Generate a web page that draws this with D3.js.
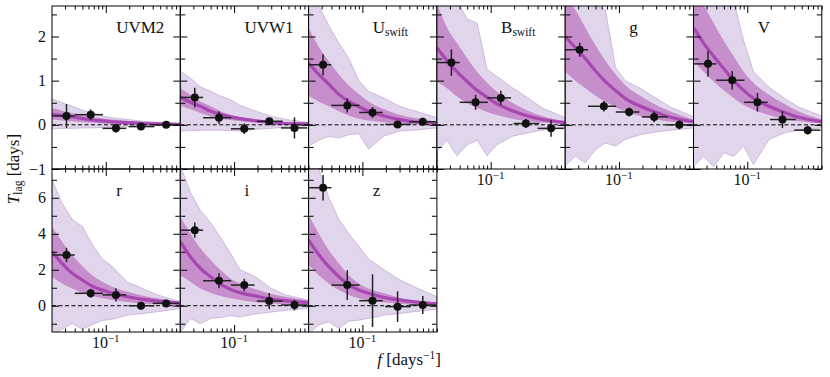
<!DOCTYPE html>
<html>
<head>
<meta charset="utf-8">
<script src="https://cdn.jsdelivr.net/npm/d3@7"></script>
<style>
  body { margin: 0; background: #fff; }
  svg { display: block; }
</style>
</head>
<body>
<div id="chart"></div>
<script>
/* panel names, in drawing order: top row of six, then bottom row of three */
const bands = ["UVM2", "UVW1", "U", "B", "g", "V", "r", "i", "z"];
const bandSub = ["", "", "swift", "swift", "", "", "", "", ""];

/* binned lag measurements: frequency bins and lag (days) with 1-sigma errors */
const fMid = [0.0313, 0.064, 0.135, 0.283, 0.596];
const fLo = [0.0204, 0.04, 0.091, 0.196, 0.40];
const fHi = [0.04, 0.092, 0.183, 0.42, 0.87];

const lagVals = [
  [0.2, 0.23, -0.08, -0.04, 0.0],
  [0.62, 0.16, -0.09, 0.08, -0.07],
  [1.36, 0.44, 0.28, 0.01, 0.07],
  [1.41, 0.51, 0.61, 0.03, -0.08],
  [1.7, 0.42, 0.29, 0.18, 0.0],
  [1.38, 1.01, 0.51, 0.12, -0.12],
  [2.82, 0.69, 0.6, 0.0, 0.13],
  [4.2, 1.39, 1.15, 0.26, 0.04],
  [6.56, 1.15, 0.28, -0.05, 0.04]
];
const lagErrs = [
  [0.27, 0.12, 0.1, 0.05, 0.05],
  [0.22, 0.14, 0.12, 0.05, 0.24],
  [0.24, 0.16, 0.12, 0.06, 0.09],
  [0.3, 0.17, 0.16, 0.1, 0.19],
  [0.16, 0.12, 0.1, 0.12, 0.1],
  [0.29, 0.21, 0.21, 0.19, 0.1],
  [0.4, 0.25, 0.37, 0.2, 0.2],
  [0.42, 0.42, 0.35, 0.45, 0.3],
  [0.71, 0.83, 1.46, 0.85, 0.5]
];

/* model lag spectra read at these frequencies */
const fGrid = [0.0204, 0.0275, 0.037, 0.05, 0.067, 0.09, 0.12, 0.19, 0.3, 0.46, 0.905];

const medLine = [
  [0.24, 0.21, 0.18, 0.14, 0.11, 0.09, 0.07, 0.05, 0.03, 0.02, 0.01],
  [0.63, 0.51, 0.42, 0.31, 0.24, 0.18, 0.14, 0.09, 0.05, 0.03, 0.02],
  [1.4, 1.14, 0.92, 0.69, 0.53, 0.41, 0.31, 0.2, 0.12, 0.07, 0.04],
  [1.75, 1.45, 1.2, 0.98, 0.78, 0.62, 0.48, 0.32, 0.2, 0.12, 0.05],
  [2.0, 1.75, 1.5, 1.22, 0.98, 0.78, 0.6, 0.42, 0.28, 0.17, 0.07],
  [2.2, 1.85, 1.55, 1.27, 1.0, 0.78, 0.6, 0.42, 0.28, 0.17, 0.07],
  [3.0, 2.35, 1.8, 1.43, 1.09, 0.87, 0.69, 0.5, 0.35, 0.26, 0.15],
  [3.56, 2.72, 2.07, 1.61, 1.2, 0.91, 0.72, 0.54, 0.37, 0.28, 0.17],
  [3.65, 2.85, 2.17, 1.61, 1.15, 0.87, 0.69, 0.46, 0.32, 0.22, 0.11]
];
const sig1Hi = [
  [0.38, 0.32, 0.27, 0.23, 0.18, 0.15, 0.12, 0.09, 0.06, 0.04, 0.02],
  [0.83, 0.68, 0.53, 0.42, 0.31, 0.23, 0.18, 0.12, 0.08, 0.05, 0.02],
  [2.19, 1.77, 1.44, 1.14, 0.89, 0.7, 0.53, 0.35, 0.23, 0.16, 0.07],
  [2.75, 2.2, 1.85, 1.5, 1.2, 0.95, 0.75, 0.5, 0.32, 0.2, 0.08],
  [2.9, 2.6, 2.2, 1.8, 1.45, 1.15, 0.9, 0.65, 0.45, 0.3, 0.12],
  [3.0, 2.7, 2.3, 1.9, 1.55, 1.2, 0.95, 0.68, 0.47, 0.3, 0.12],
  [4.39, 3.56, 2.82, 2.2, 1.7, 1.33, 1.06, 0.78, 0.56, 0.41, 0.22],
  [4.95, 4.02, 3.19, 2.54, 1.98, 1.52, 1.24, 0.91, 0.65, 0.5, 0.28],
  [5.04, 4.02, 3.09, 2.35, 1.7, 1.24, 0.96, 0.69, 0.45, 0.32, 0.17]
];
const sig1Lo = [
  [0.12, 0.1, 0.08, 0.06, 0.05, 0.03, 0.02, 0.015, 0.01, 0.005, 0.0],
  [0.44, 0.35, 0.27, 0.19, 0.14, 0.11, 0.08, 0.05, 0.03, 0.02, 0.01],
  [0.65, 0.53, 0.42, 0.31, 0.21, 0.14, 0.1, 0.06, 0.03, 0.02, 0.01],
  [0.98, 0.83, 0.64, 0.49, 0.38, 0.29, 0.22, 0.14, 0.08, 0.05, 0.02],
  [1.2, 1.0, 0.83, 0.66, 0.52, 0.4, 0.3, 0.2, 0.12, 0.07, 0.03],
  [1.45, 1.2, 0.98, 0.78, 0.6, 0.45, 0.34, 0.22, 0.13, 0.08, 0.03],
  [1.61, 1.24, 0.96, 0.72, 0.54, 0.41, 0.32, 0.21, 0.13, 0.09, 0.06],
  [1.7, 1.33, 0.96, 0.72, 0.54, 0.41, 0.32, 0.2, 0.13, 0.09, 0.06],
  [2.26, 1.7, 1.24, 0.87, 0.6, 0.41, 0.28, 0.19, 0.11, 0.07, 0.04]
];
const sig2Hi = [
  [0.59, 0.5, 0.42, 0.33, 0.27, 0.2, 0.16, 0.12, 0.08, 0.06, 0.03],
  [1.21, 1.06, 0.86, 0.76, 0.65, 0.57, 0.44, 0.31, 0.19, 0.12, 0.05],
  [3.0, 2.7, 2.25, 1.85, 1.5, 1.0, 0.76, 0.6, 0.42, 0.32, 0.16],
  [3.0, 3.0, 2.8, 2.4, 2.3, 1.25, 1.1, 0.84, 0.61, 0.38, 0.16],
  [3.0, 3.0, 3.0, 2.7, 2.6, 1.3, 1.0, 0.82, 0.6, 0.4, 0.18],
  [3.0, 3.0, 3.0, 3.0, 2.8, 1.9, 1.2, 0.85, 0.6, 0.4, 0.2],
  [7.0, 5.7, 4.8, 4.4, 3.4, 2.6, 2.2, 1.3, 0.95, 0.6, 0.22],
  [7.8, 6.3, 5.3, 4.6, 3.8, 2.9, 2.0, 1.6, 0.96, 0.6, 0.3],
  [8.0, 7.6, 6.0, 4.8, 4.0, 3.3, 2.6, 2.0, 1.45, 1.05, 0.5]
];
const sig2Lo = [
  [-0.09, -0.08, -0.08, -0.07, -0.07, -0.06, -0.05, -0.04, -0.03, -0.02, -0.01],
  [-0.14, -0.13, -0.12, -0.12, -0.12, -0.13, -0.14, -0.1, -0.08, -0.05, -0.02],
  [-0.48, -0.35, -0.26, -0.3, -0.22, -0.2, -0.55, -0.25, -0.14, -0.12, -0.07],
  [-0.6, -0.35, -0.7, -0.45, -0.35, -0.7, -0.45, -0.26, -0.18, -0.12, -0.07],
  [-0.93, -0.71, -0.86, -0.56, -0.41, -0.48, -0.33, -0.22, -0.16, -0.12, -0.07],
  [-0.95, -0.71, -0.95, -0.63, -0.71, -0.48, -0.9, -0.33, -0.18, -0.12, -0.07],
  [-1.6, -1.3, -0.98, -1.3, -1.05, -0.82, -0.75, -0.52, -0.43, -0.33, -0.15],
  [-1.5, -0.7, -1.0, -0.7, -0.65, -0.55, -0.62, -0.45, -0.35, -0.25, -0.15],
  [-1.6, -1.07, -0.89, -1.26, -0.85, -0.8, -0.7, -0.52, -0.43, -0.33, -0.19]
];

/* axis ticks */
const xMajor = [0.1];
const xMinor = [0.03, 0.04, 0.05, 0.06, 0.07, 0.08, 0.09, 0.2, 0.3, 0.4, 0.5, 0.6, 0.7, 0.8, 0.9];
const yMajorTop = [-1, 0, 1, 2];
const yMinorTop = [-0.5, 0.5, 1.5, 2.5];
const yMajorBot = [0, 2, 4, 6];
const yMinorBot = [-1, 1, 3, 5, 7];

const width = 830, height = 377;
const left0 = 52, panelW = 128.3, panelH = 163;
const rowTop = [6, 169];
const serif = "'Liberation Serif', 'DejaVu Serif', serif";

const colLight = "#e1d5eb", colLightEdge = "#c4acd6";
const colMid = "#c68ecb", colMed = "#a847b2";

const x = d3.scaleLog().domain([0.0204, 0.905]).range([0, panelW]);
const yTop = d3.scaleLinear().domain([-1, 2.69]).range([panelH, 0]);
const yBot = d3.scaleLinear().domain([-1.46, 7.6]).range([panelH, 0]);

const svg = d3.select("#chart").append("svg")
  .attr("width", width)
  .attr("height", height)
  .attr("font-family", serif)
  .style("font-family", serif);

bands.forEach((name, i) => {
  const row = i < 6 ? 0 : 1;
  const col = i < 6 ? i : i - 6;
  const y = row === 0 ? yTop : yBot;
  const g = svg.append("g")
    .attr("transform", `translate(${left0 + col * panelW},${rowTop[row]})`);

  const clipId = "clip" + i;
  g.append("clipPath").attr("id", clipId)
    .append("rect").attr("width", panelW).attr("height", panelH);

  const plot = g.append("g").attr("clip-path", `url(#${clipId})`);

  const area2 = d3.area()
    .x((d, j) => x(fGrid[j]))
    .y0((d, j) => y(sig2Lo[i][j]))
    .y1(d => y(d));
  plot.append("path")
    .attr("d", area2(sig2Hi[i]))
    .attr("fill", colLight)
    .attr("stroke", colLightEdge)
    .attr("stroke-width", 0.8);

  const area1 = d3.area()
    .curve(d3.curveMonotoneX)
    .x((d, j) => x(fGrid[j]))
    .y0((d, j) => y(sig1Lo[i][j]))
    .y1(d => y(d));
  plot.append("path")
    .attr("d", area1(sig1Hi[i]))
    .attr("fill", colMid);

  const line = d3.line()
    .curve(d3.curveMonotoneX)
    .x((d, j) => x(fGrid[j]))
    .y(d => y(d));
  plot.append("path")
    .attr("d", line(medLine[i]))
    .attr("fill", "none")
    .attr("stroke", colMed)
    .attr("stroke-width", 3.2);

  plot.append("line")
    .attr("x1", 0).attr("x2", panelW)
    .attr("y1", y(0)).attr("y2", y(0))
    .attr("stroke", "#000")
    .attr("stroke-width", 1)
    .attr("stroke-dasharray", "4,2.5");

  // measured lags
  const pts = g.append("g");
  lagVals[i].forEach((v, k) => {
    const e = lagErrs[i][k];
    pts.append("line")
      .attr("x1", Math.max(0, x(fLo[k]))).attr("x2", x(fHi[k]))
      .attr("y1", y(v)).attr("y2", y(v))
      .attr("stroke", "#222").attr("stroke-width", 1.5);
    pts.append("line")
      .attr("x1", x(fMid[k])).attr("x2", x(fMid[k]))
      .attr("y1", y(v - e)).attr("y2", y(v + e))
      .attr("stroke", "#222").attr("stroke-width", 1.5);
    pts.append("circle")
      .attr("cx", x(fMid[k])).attr("cy", y(v))
      .attr("r", 4)
      .attr("fill", "#111");
  });

  // inward ticks on all four sides
  const ax = g.append("g").attr("class", "axes");
  const tick = (sel) => {
    sel.select(".domain").remove();
    sel.selectAll("line").attr("stroke", "#000").attr("stroke-width", 1);
  };
  ax.append("g").attr("transform", `translate(0,${panelH})`)
    .call(d3.axisBottom(x).tickValues(xMajor).tickSize(-7).tickFormat("")).call(tick);
  ax.append("g").attr("transform", `translate(0,${panelH})`)
    .call(d3.axisBottom(x).tickValues(xMinor).tickSize(-3.5).tickFormat("")).call(tick);
  ax.append("g")
    .call(d3.axisTop(x).tickValues(xMajor).tickSize(-7).tickFormat("")).call(tick);
  ax.append("g")
    .call(d3.axisTop(x).tickValues(xMinor).tickSize(-3.5).tickFormat("")).call(tick);

  const yMaj = row === 0 ? yMajorTop : yMajorBot;
  const yMin = row === 0 ? yMinorTop : yMinorBot;
  ax.append("g")
    .call(d3.axisLeft(y).tickValues(yMaj).tickSize(-7).tickFormat("")).call(tick);
  ax.append("g")
    .call(d3.axisLeft(y).tickValues(yMin).tickSize(-5).tickFormat("")).call(tick);
  ax.append("g").attr("transform", `translate(${panelW},0)`)
    .call(d3.axisRight(y).tickValues(yMaj).tickSize(-7).tickFormat("")).call(tick);
  ax.append("g").attr("transform", `translate(${panelW},0)`)
    .call(d3.axisRight(y).tickValues(yMin).tickSize(-5).tickFormat("")).call(tick);

  g.append("rect")
    .attr("width", panelW).attr("height", panelH)
    .attr("fill", "none")
    .attr("stroke", "#000")
    .attr("stroke-width", 1);

  // tick labels
  if (col === 0) {
    yMaj.forEach(v => {
      g.append("text")
        .attr("x", -6)
        .attr("y", y(v))
        .attr("dy", "0.35em")
        .attr("text-anchor", "end")
        .attr("font-size", 16)
        .attr("fill", "#111")
        .text(v < 0 ? "\u2212" + Math.abs(v) : v);
    });
  }
  if (row === 1 || col >= 3) {
    const t = g.append("text")
      .attr("x", x(0.1))
      .attr("y", panelH + 16)
      .attr("text-anchor", "middle")
      .attr("font-size", 16)
      .attr("fill", "#111");
    t.append("tspan").text("10");
    t.append("tspan").attr("font-size", 11).attr("dy", -6).text("\u22121");
  }

  // panel label
  const lab = g.append("text")
    .attr("x", panelW * 0.5)
    .attr("y", 27)
    .attr("font-size", 17)
    .attr("fill", "#111");
  lab.append("tspan").text(name);
  if (bandSub[i]) {
    lab.append("tspan").attr("font-size", 11.5).attr("dy", 3).text(bandSub[i]);
  }
});

// axis titles
const yl = svg.append("text")
  .attr("transform", "translate(19,169) rotate(-90)")
  .attr("text-anchor", "middle")
  .attr("font-size", 17)
  .attr("fill", "#111");
yl.append("tspan").attr("font-style", "italic").text("T");
yl.append("tspan").attr("font-size", 11.5).attr("dy", 3).text("lag");
yl.append("tspan").attr("dy", -3).text(" [days]");

const xl = svg.append("text")
  .attr("x", 441)
  .attr("y", 365)
  .attr("text-anchor", "end")
  .attr("font-size", 17)
  .attr("fill", "#111");
xl.append("tspan").attr("font-style", "italic").text("f");
xl.append("tspan").text(" [days");
xl.append("tspan").attr("font-size", 11.5).attr("dy", -6).text("\u22121");
xl.append("tspan").attr("dy", 6).text("]");
</script>
</body>
</html>
